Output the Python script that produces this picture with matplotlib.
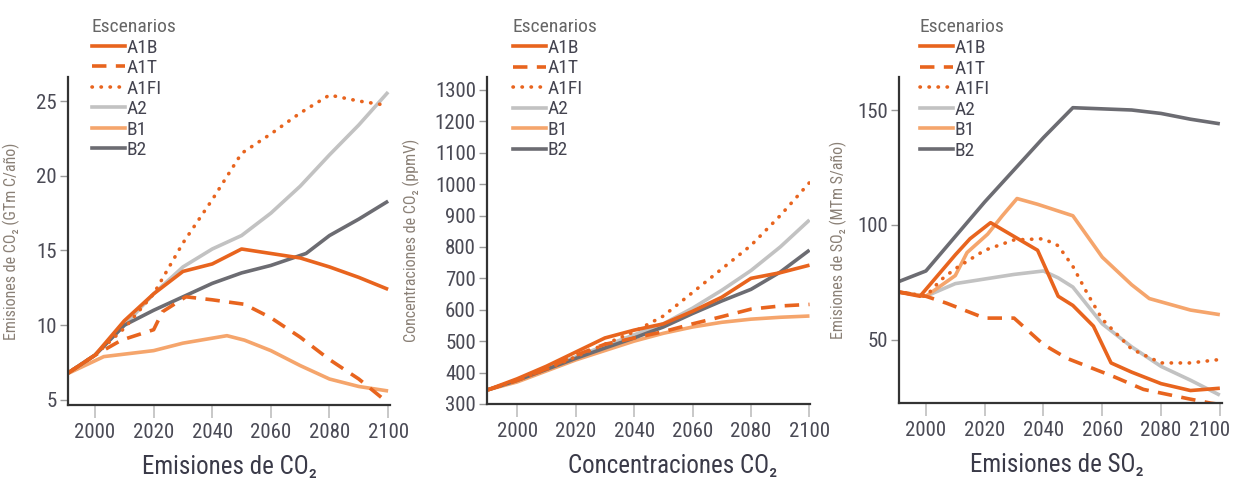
import numpy as np
import matplotlib.pyplot as plt
import matplotlib.transforms as mtransforms
from matplotlib import font_manager
from matplotlib.lines import Line2D

# pick the narrowest sans font that is installed
font_names = {f.name for f in font_manager.fontManager.ttflist}
narrow = [f.name for f in font_manager.fontManager.ttflist
          if ('Narrow' in f.name or 'Condensed' in f.name) and 'Mono' not in f.name
          and 'Serif' not in f.name]
cands = ['Liberation Sans Narrow', 'Roboto Condensed', 'Open Sans Condensed',
         'DejaVu Sans Condensed'] + sorted(set(narrow))
chosen = next((c for c in cands if c in font_names), None)
if chosen is None:
    chosen = 'Liberation Sans'
    size_scale = 0.86
else:
    size_scale = 1.0
plt.rcParams['font.family'] = [chosen, 'DejaVu Sans']

# Scenario names
scenarios = ["A1B", "A1T", "A1FI", "A2", "B1", "B2"]

# Panel 1: CO2 emissions (GtC / year)
years_dec = [1990, 2000, 2010, 2020, 2030, 2040, 2050, 2060, 2070, 2080, 2090, 2100]
co2_em_a1b = [6.7, 8.0, 10.3, 12.1, 13.6, 14.1, 15.1, 14.8, 14.5, 13.9, 13.2, 12.4]
co2_em_a1t_years = [1990, 2000, 2009, 2020, 2023, 2031, 2040, 2051, 2060, 2070, 2080, 2090, 2100]
co2_em_a1t = [6.7, 8.0, 9.0, 9.7, 10.9, 11.9, 11.7, 11.4, 10.5, 9.2, 7.7, 6.4, 4.8]
co2_em_a1fi = [6.7, 8.0, 9.8, 12.1, 15.5, 18.4, 21.5, 22.8, 24.2, 25.4, 25.0, 24.7]
co2_em_a2 = [6.7, 8.0, 10.0, 12.1, 13.9, 15.1, 16.0, 17.5, 19.3, 21.4, 23.4, 25.6]
co2_em_b1_years = [1990, 2003, 2020, 2030, 2045, 2051, 2060, 2070, 2080, 2090, 2100]
co2_em_b1 = [6.7, 7.9, 8.3, 8.8, 9.3, 9.0, 8.3, 7.3, 6.4, 5.9, 5.6]
co2_em_b2_years = [1990, 2000, 2010, 2020, 2030, 2040, 2050, 2060, 2072, 2080, 2090, 2100]
co2_em_b2 = [6.7, 8.0, 10.0, 11.0, 11.9, 12.8, 13.5, 14.0, 14.8, 16.0, 17.1, 18.3]

# Panel 2: CO2 concentrations (ppmV)
conc_a1b = [345, 380, 420, 465, 510, 535, 555, 595, 640, 700, 718, 742]
conc_a1t = [345, 375, 412, 455, 490, 510, 530, 555, 578, 602, 612, 617]
conc_a1fi = [345, 375, 410, 450, 490, 530, 580, 655, 730, 805, 900, 1005]
conc_a2 = [345, 375, 410, 450, 485, 520, 555, 605, 662, 725, 800, 886]
conc_b1 = [345, 370, 405, 440, 470, 500, 525, 545, 560, 570, 576, 580]
conc_b2 = [345, 375, 410, 445, 478, 510, 545, 588, 628, 665, 720, 790]

# Panel 3: SO2 emissions (MtS / year)
so2_a1b_years = [1990, 1998, 2010, 2015, 2022, 2030, 2038, 2045, 2050, 2057, 2063, 2070, 2080, 2090, 2100]
so2_a1b = [71, 69, 87, 94, 101, 95, 89, 69, 65, 56, 40, 36, 31, 28, 29]
so2_a1t_years = [1990, 2000, 2007, 2020, 2030, 2040, 2048, 2064, 2074, 2089, 2097, 2100]
so2_a1t = [71, 69, 66, 59.5, 59.5, 48, 42, 34, 28.5, 24.5, 22.5, 22]
so2_a1fi_years = [1990, 2000, 2005, 2010, 2020, 2030, 2040, 2045, 2050, 2055, 2060, 2070, 2080, 2090, 2100]
so2_a1fi = [71, 69, 76, 81, 89, 93.5, 94, 91, 82, 70, 59, 46, 40, 40, 41.5]
so2_a2_years = [1990, 2000, 2010, 2020, 2030, 2040, 2045, 2050, 2060, 2070, 2080, 2090, 2100]
so2_a2 = [71, 69, 74.5, 76.5, 78.5, 80, 77, 73, 57, 47, 38.5, 32.5, 26]
so2_b1_years = [1990, 2000, 2010, 2014, 2021, 2026, 2031, 2038, 2050, 2060, 2070, 2076, 2090, 2100]
so2_b1 = [71, 69, 78, 88, 96, 104, 111.5, 109, 104, 86, 74, 68, 63, 61]
so2_b2_years = [1990, 2000, 2010, 2020, 2030, 2040, 2050, 2060, 2070, 2080, 2090, 2100]
so2_b2 = [75, 80, 95, 110, 124, 138, 151, 150.5, 150, 148.5, 146, 144]

x_ticks = [2000, 2020, 2040, 2060, 2080, 2100]

orange = '#e8641e'
light_orange = '#f5a56c'
light_gray = '#c2c2c2'
dark_gray = '#6c6c72'
tick_col = '#4a4a55'
ylab_col = '#8a8076'

styles = {
    "A1B": dict(color=orange, ls='-'),
    "A1T": dict(color=orange, ls=(0, (4, 2.6))),
    "A1FI": dict(color=orange, ls=(0, (0.1, 2.4)), dash_capstyle='round'),
    "A2": dict(color=light_gray, ls='-'),
    "B1": dict(color=light_orange, ls='-'),
    "B2": dict(color=dark_gray, ls='-'),
}
order = ["A2", "B1", "B2", "A1FI", "A1T", "A1B"]

panels = [
    dict(series={"A1B": (years_dec, co2_em_a1b), "A1T": (co2_em_a1t_years, co2_em_a1t),
                 "A1FI": (years_dec, co2_em_a1fi), "A2": (years_dec, co2_em_a2),
                 "B1": (co2_em_b1_years, co2_em_b1), "B2": (co2_em_b2_years, co2_em_b2)},
         rect=[0.0552, 0.160, 0.261, 0.680], xlim=(1990.8, 2100.6), ylim=(4.67, 26.6),
         yticks=[5, 10, 15, 20, 25], ylabel='Emisiones de CO₂ (GTm C/año)', ylx=-0.149,
         title='Emisiones de CO₂', title_x=0.5, leg_x=0.074, last_shift=0),
    dict(series={"A1B": (years_dec, conc_a1b), "A1T": (years_dec, conc_a1t),
                 "A1FI": (years_dec, conc_a1fi), "A2": (years_dec, conc_a2),
                 "B1": (years_dec, conc_b1), "B2": (years_dec, conc_b2)},
         rect=[0.395, 0.162, 0.262, 0.678], xlim=(1989.7, 2100.2), ylim=(300, 1341),
         yticks=list(range(300, 1301, 100)), ylabel='Concentraciones de CO₂ (ppmV)', ylx=-0.207,
         title='Concentraciones CO₂', title_x=0.576, leg_x=0.080, last_shift=0),
    dict(series={"A1B": (so2_a1b_years, so2_a1b), "A1T": (so2_a1t_years, so2_a1t),
                 "A1FI": (so2_a1fi_years, so2_a1fi), "A2": (so2_a2_years, so2_a2),
                 "B1": (so2_b1_years, so2_b1), "B2": (so2_b2_years, so2_b2)},
         rect=[0.729, 0.164, 0.262, 0.676], xlim=(1990.8, 2100.7), ylim=(22.6, 164.3),
         yticks=[50, 100, 150], ylabel='Emisiones de SO₂ (MTm S/año)', ylx=-0.161,
         title='Emisiones de SO₂', title_x=0.49, leg_x=0.065, last_shift=-10),
]

fig = plt.figure(figsize=(12.33, 4.82), dpi=100)
fs_tick = 15 * size_scale
fs_title = 18 * size_scale
fs_small = 11.5 * size_scale
fs_leg = 14 * size_scale

for p in panels:
    ax = fig.add_axes(p['rect'])
    for name in order:
        xs, ys = p['series'][name]
        ax.plot(xs, ys, lw=2.6, solid_capstyle='butt', **styles[name])
    ax.set_xlim(*p['xlim'])
    ax.set_ylim(*p['ylim'])
    ax.set_xticks(x_ticks)
    ax.set_yticks(p['yticks'])
    for s in ['top', 'right']:
        ax.spines[s].set_visible(False)
    for s in ['left', 'bottom']:
        ax.spines[s].set_color('#333333')
        ax.spines[s].set_linewidth(1.6)
    ax.tick_params(axis='x', length=9, width=1.4, color='#c8c8c8', pad=4,
                   labelsize=fs_tick, labelcolor=tick_col)
    ax.tick_params(axis='y', length=6, width=1.0, color='#9a9a9a', pad=2,
                   labelsize=fs_tick, labelcolor=tick_col)
    ax.get_xticklines()[0].set_color('#333333')
    if p['last_shift']:
        lbl = ax.get_xticklabels()[-1]
        lbl.set_transform(lbl.get_transform() + mtransforms.ScaledTranslation(
            p['last_shift'] / 100, 0, fig.dpi_scale_trans))
    ax.set_ylabel(p['ylabel'], fontsize=fs_small, color=ylab_col)
    ax.yaxis.set_label_coords(p['ylx'], 0.5)
    ax.text(p['title_x'], -0.19, p['title'], transform=ax.transAxes, ha='center',
            va='center', fontsize=fs_title, color='#3a3a48')
    handles = [Line2D([], [], lw=2.6, **styles[n]) for n in scenarios]
    leg = ax.legend(handles, scenarios, title='Escenarios', loc='upper left',
                    bbox_to_anchor=(p['leg_x'], 1.18), frameon=False, fontsize=fs_leg,
                    title_fontsize=fs_leg, handlelength=1.7, handletextpad=0.1,
                    labelspacing=0.13, borderpad=0, borderaxespad=0, alignment='left')
    leg.get_title().set_color('#666666')
    for t in leg.get_texts():
        t.set_color('#444450')

fig.savefig('out.png', dpi=100)
